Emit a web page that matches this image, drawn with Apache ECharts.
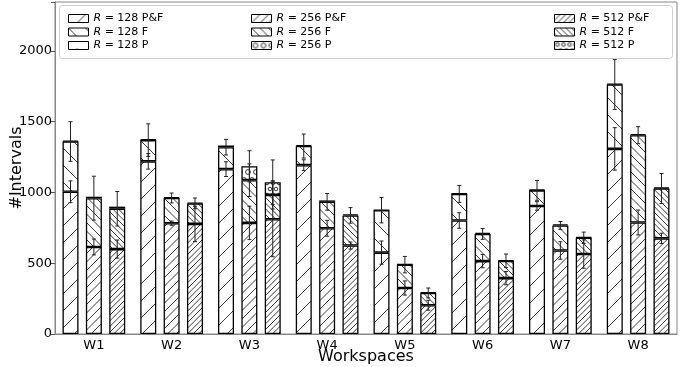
<!DOCTYPE html>
<html>
<head>
<meta charset="utf-8">
<script src="https://cdn.jsdelivr.net/npm/echarts@6/dist/echarts.min.js"></script>
<style>html,body{margin:0;padding:0;background:#fff}#c{width:680px;height:367px}</style>
</head>
<body>
<div id="c"></div>
<script>
// ---- data ----
const categories = ['W1','W2','W3','W4','W5','W6','W7','W8'];
const radii = ['128','256','512'];
// stacked segment values (P&F bottom, F middle, P top)
const pf128 = [1005,1220,1165,1193,575,802,905,1308];
const f128  = [355,150,155,135,300,188,110,455];
const p128  = [5,5,12,6,2,2,5,5];
const pf256 = [615,783,785,747,325,515,590,788];
const f256  = [345,178,302,187,165,192,177,617];
const p256  = [10,5,98,10,2,8,8,7];
const pf512 = [600,778,811,625,203,395,565,676];
const f512  = [285,145,172,213,87,122,115,352];
const p512  = [15,5,89,8,5,4,4,7];
// error half-widths at each cumulative segment top
const errPF128 = [77,55,52,38,82,55,30,150];
const errF128  = [140,115,55,85,90,60,70,176];
const errP128  = [0,0,0,0,0,0,0,0];
const errPF256 = [56,15,118,56,50,47,62,88];
const errF256  = [155,35,115,59,58,38,28,60];
const errP256  = [0,0,110,0,0,0,0,0];
const errPF512 = [64,125,265,25,35,47,100,36];
const errF512  = [122,38,100,55,35,48,40,106];
const errP512  = [0,0,158,0,0,0,0,0];
const yTicks = [0,500,1000,1500,2000];

// ---- styling helpers ----
const FONT = 'DejaVu Sans';
function makeHatch(kind, n) {
  const c = document.createElement('canvas');
  let T;
  if (kind === 'dot' || kind === 'circ') {
    const s = n; T = 2 * s;
    c.width = c.height = T;
    const ctx = c.getContext('2d');
    ctx.fillStyle = '#fff'; ctx.fillRect(0,0,T,T);
    ctx.strokeStyle = '#222'; ctx.fillStyle = '#222'; ctx.lineWidth = 0.9;
    const pts = [];
    for (let dx=-1; dx<=1; dx++) for (let dy=-1; dy<=1; dy++) {
      pts.push([s/2 + dx*T, s/2 + dy*T]); pts.push([3*s/2 + dx*T, s/2 + dy*T]);
      pts.push([0 + dx*T, 3*s/2 + dy*T]); pts.push([s + dx*T, 3*s/2 + dy*T]);
    }
    pts.forEach(p => {
      ctx.beginPath();
      if (kind === 'dot') { ctx.arc(p[0], p[1], 1.3, 0, Math.PI*2); ctx.fill(); }
      else { ctx.arc(p[0], p[1], Math.max(1.6, s*0.3), 0, Math.PI*2); ctx.stroke(); }
    });
    return c;
  }
  T = 17;
  c.width = c.height = T;
  const ctx = c.getContext('2d');
  ctx.fillStyle = '#fff'; ctx.fillRect(0,0,T,T);
  ctx.strokeStyle = '#222'; ctx.lineWidth = 0.9;
  const step = T / n;
  ctx.beginPath();
  if (kind === '/') {
    for (let k = 0; k <= 2*n; k++) {
      const cc = k*step;
      ctx.moveTo(cc+2, -2); ctx.lineTo(-2, cc+2);
    }
  } else {
    for (let k = -n; k <= n; k++) {
      const d = k*step;
      ctx.moveTo(-2, d-2); ctx.lineTo(T+2, d+T+2);
    }
  }
  ctx.stroke();
  return c;
}
const patterns = {
  '128': [makeHatch('/',1), makeHatch('\\',1), makeHatch('dot',17)],
  '256': [makeHatch('/',2), makeHatch('\\',2), makeHatch('circ',8)],
  '512': [makeHatch('/',3), makeHatch('\\',3), makeHatch('circ',6)]
};
const segData = {
  '128': [pf128, f128, p128], '256': [pf256, f256, p256], '512': [pf512, f512, p512]
};
const errData = {
  '128': [errPF128, errF128, errP128], '256': [errPF256, errF256, errP256], '512': [errPF512, errF512, errP512]
};
const segNames = ['P&F','F','P'];
const BAR_W = 16, GAP = 0.46;

const series = [];
radii.forEach(r => {
  segNames.forEach((s, j) => {
    series.push({
      type: 'bar', name: 'R = ' + r + ' ' + s, stack: 'r' + r,
      barWidth: BAR_W, barGap: (GAP*100) + '%',
      data: segData[r][j],
      itemStyle: { color: { image: patterns[r][j], repeat: 'repeat' }, borderColor: '#000', borderWidth: 1.3 },
      emphasis: { disabled: true },
      z: 2
    });
  });
});
// error bar data: [categoryIndex, groupIndex, center, halfWidth]
const errItems = [];
radii.forEach((r, g) => {
  categories.forEach((cat, i) => {
    let cum = 0;
    for (let j = 0; j < 3; j++) {
      cum += segData[r][j][i];
      const e = errData[r][j][i];
      if (e > 0) errItems.push([i, g, cum, e]);
    }
  });
});
series.push({
  type: 'custom', name: 'err', z: 5, silent: true,
  data: errItems,
  encode: { x: 0, y: 2 },
  renderItem: function (params, api) {
    const i = api.value(0), g = api.value(1), v = api.value(2), e = api.value(3);
    const off = (g - 1) * BAR_W * (1 + GAP);
    const x = api.coord([i, v])[0] + off;
    const yt = api.coord([i, v + e])[1];
    const yb = api.coord([i, v - e])[1];
    const st = { stroke: '#222', lineWidth: 1 };
    return { type: 'group', children: [
      { type: 'line', shape: { x1: x, y1: yt, x2: x, y2: yb }, style: st },
      { type: 'line', shape: { x1: x-2, y1: yt, x2: x+2, y2: yt }, style: st },
      { type: 'line', shape: { x1: x-2, y1: yb, x2: x+2, y2: yb }, style: st }
    ]};
  }
});

function legendFor(r, left) {
  return {
    orient: 'vertical', left: left, top: 8, itemGap: 2.5, itemWidth: 20, itemHeight: 8,
    icon: 'rect', selectedMode: false,
    itemStyle: { borderColor: '#000', borderWidth: 1 },
    data: segNames.map(s => 'R = ' + r + ' ' + s),
    formatter: name => '{i|R}{n|' + name.slice(1) + '}',
    textStyle: { fontFamily: FONT, fontSize: 11, color: '#000',
      rich: { i: { fontFamily: FONT, fontSize: 11, fontStyle: 'italic', lineHeight: 13 },
              n: { fontFamily: FONT, fontSize: 11, lineHeight: 13 } } }
  };
}

const chart = echarts.init(document.getElementById('c'), null, { renderer: 'canvas' });
chart.setOption({
  animation: false,
  backgroundColor: '#fff',
  grid: { left: 55, right: 3, top: 2, bottom: 33, show: true, borderColor: '#888', borderWidth: 1,
          containLabel: false, outerBoundsMode: 'none' },
  graphic: [{ type: 'rect', left: 59, top: 5, z: 0, zlevel: 0,
    shape: { width: 613, height: 53, r: 3 },
    style: { fill: 'rgba(255,255,255,0.85)', stroke: '#d0d0d0', lineWidth: 1 } }],
  legend: [legendFor('128', 63), legendFor('256', 246), legendFor('512', 549)],
  xAxis: {
    type: 'category', data: categories,
    axisLine: { lineStyle: { color: '#888', width: 1 } },
    axisTick: { alignWithLabel: true, length: 3, lineStyle: { color: '#555' } },
    axisLabel: { fontFamily: FONT, fontSize: 13, color: '#000', margin: 5 },
    name: 'Workspaces', nameLocation: 'middle', nameGap: 15, nameMoveOverlap: false,
    nameTextStyle: { fontFamily: FONT, fontSize: 16, color: '#000' }
  },
  yAxis: {
    type: 'value', min: 0, max: 2346, interval: 500,
    splitLine: { show: false },
    axisLine: { show: true, lineStyle: { color: '#888', width: 1 } },
    axisTick: { show: true, length: 4, lineStyle: { color: '#555' } },
    axisLabel: { fontFamily: FONT, fontSize: 13, color: '#000', margin: 3,
      formatter: v => (yTicks.indexOf(v) >= 0 ? String(v) : '') },
    name: '#Intervals', nameLocation: 'middle', nameGap: 30, nameMoveOverlap: false,
    nameTextStyle: { fontFamily: FONT, fontSize: 16, color: '#000' }
  },
  series: series
});
</script>
</body>
</html>
